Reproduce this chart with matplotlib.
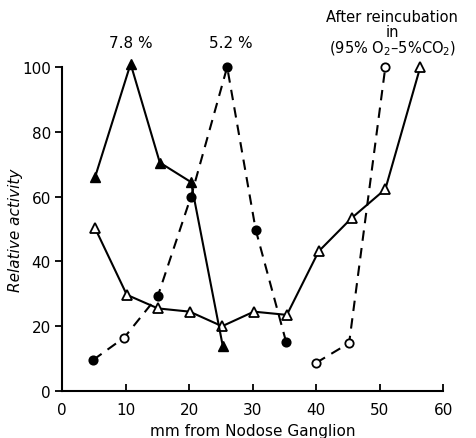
import matplotlib
matplotlib.use("Agg")
import matplotlib.pyplot as plt

# filled triangles, solid line
tri_f_x = [5.2, 10.8, 15.4, 20.3, 25.3]
tri_f_y = [66, 101, 70.5, 64.5, 14]

# dashed line with circles (first segment)
circ1_x = [4.9, 9.8, 15.1, 20.3, 26.0, 30.5, 35.3]
circ1_y = [9.6, 16.5, 29.4, 60, 100, 49.7, 15]
circ1_filled = [True, False, True, True, True, True, True]

# dashed line with open circles (after reincubation)
circ2_x = [40.0, 45.2, 50.9]
circ2_y = [8.7, 14.8, 100]

# open triangles, solid line
tri_o_x = [5.2, 10.2, 15.1, 20.1, 25.2, 30.2, 35.4, 40.4, 45.6, 50.9, 56.4]
tri_o_y = [50.3, 29.7, 25.5, 24.5, 20, 24.5, 23.5, 43.1, 53.4, 62.3, 100]

x_ticks = [0, 10, 20, 30, 40, 50, 60]
y_ticks = [0, 20, 40, 60, 80, 100]

fig = plt.figure(figsize=(4.77, 4.39), dpi=100)
ax = fig.add_axes([0.130, 0.107, 0.799, 0.738])

lw = 1.5
ms = 6.5
ax.plot(tri_o_x, tri_o_y, '-', color='black', lw=lw, marker='^', ms=ms,
        mfc='white', mec='black', mew=1.3, clip_on=False, zorder=3)
ax.plot(tri_f_x, tri_f_y, '-', color='black', lw=lw, marker='^', ms=ms,
        mfc='black', mec='black', clip_on=False, zorder=4)
ax.plot(circ1_x, circ1_y, '--', color='black', lw=lw, dashes=(5, 3.5),
        clip_on=False, zorder=2)
for x, y, f in zip(circ1_x, circ1_y, circ1_filled):
    ax.plot([x], [y], 'o', ms=6, mfc='black' if f else 'white', mec='black',
            mew=1.3, clip_on=False, zorder=5)
ax.plot(circ2_x, circ2_y, '--', color='black', lw=lw, dashes=(5, 3.5),
        marker='o', ms=6, mfc='white', mec='black', mew=1.3, clip_on=False,
        zorder=2)

ax.set_xlim(0, 60)
ax.set_ylim(0, 100)
ax.set_xticks(x_ticks)
ax.set_yticks(y_ticks)
ax.tick_params(axis='x', direction='in', length=5, width=1.3, labelsize=11, pad=8)
ax.tick_params(axis='y', direction='out', length=5, width=1.3, labelsize=11, pad=3)
for s in ['top', 'right']:
    ax.spines[s].set_visible(False)
for s in ['left', 'bottom']:
    ax.spines[s].set_linewidth(1.5)

ax.set_xlabel('mm from Nodose Ganglion', fontsize=11, labelpad=4)
ax.set_ylabel('Relative activity', fontsize=11, style='italic')
ax.yaxis.set_label_coords(-0.123, 0.5)
ax.yaxis.label.set_verticalalignment('center')

ax.text(10.8, 107.5, '7.8 %', ha='center', va='center', fontsize=11)
ax.text(26.5, 107.5, '5.2 %', ha='center', va='center', fontsize=11)
ax.text(52, 110.5, 'After reincubation\nin\n(95% O$_2$\u20135%CO$_2$)',
        ha='center', va='center', fontsize=10.5, linespacing=1.0)

fig.savefig('out.png', dpi=100)
